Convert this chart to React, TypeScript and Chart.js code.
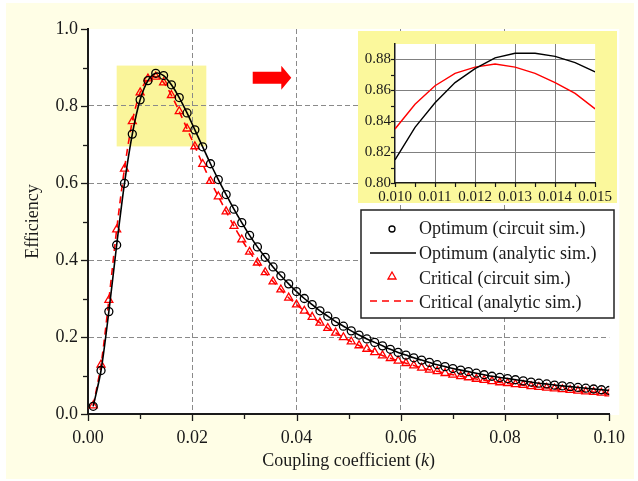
import React, { useEffect, useRef } from 'react';
import { Chart, registerables } from 'chart.js';
Chart.register(...registerables);

// ---------- data ----------
const kValues = [
  0.001, 0.0025, 0.004, 0.0055, 0.007, 0.0085, 0.01, 0.0115, 0.013, 0.0145,
  0.016, 0.0175, 0.019, 0.0205, 0.022, 0.0235, 0.025, 0.0265, 0.028, 0.0295,
  0.031, 0.0325, 0.034, 0.0355, 0.037, 0.0385, 0.04, 0.0415, 0.043, 0.0445,
  0.046, 0.0475, 0.049, 0.0505, 0.052, 0.0535, 0.055, 0.0565, 0.058, 0.0595,
  0.061, 0.0625, 0.064, 0.0655, 0.067, 0.0685, 0.07, 0.0715, 0.073, 0.0745,
  0.076, 0.0775, 0.079, 0.0805, 0.082, 0.0835, 0.085, 0.0865, 0.088, 0.0895,
  0.091, 0.0925, 0.094, 0.0955, 0.097, 0.0985, 0.1,
];
const optimumCircuit = [
  0.020, 0.113, 0.266, 0.439, 0.599, 0.727, 0.816, 0.866, 0.885, 0.879,
  0.855, 0.822, 0.782, 0.738, 0.694, 0.650, 0.609, 0.570, 0.532, 0.497,
  0.464, 0.434, 0.407, 0.382, 0.359, 0.338, 0.318, 0.300, 0.284, 0.268,
  0.254, 0.240, 0.228, 0.216, 0.205, 0.195, 0.186, 0.177, 0.168, 0.160,
  0.153, 0.146, 0.140, 0.134, 0.128, 0.123, 0.118, 0.114, 0.110, 0.106,
  0.102, 0.098, 0.095, 0.092, 0.089, 0.086, 0.083, 0.080, 0.078, 0.075,
  0.073, 0.071, 0.069, 0.067, 0.065, 0.063, 0.061,
];
const optimumAnalytic = [
  0.020, 0.113, 0.266, 0.439, 0.599, 0.727, 0.816, 0.866, 0.885, 0.879,
  0.855, 0.822, 0.782, 0.738, 0.694, 0.650, 0.609, 0.570, 0.532, 0.497,
  0.464, 0.434, 0.407, 0.382, 0.359, 0.338, 0.318, 0.300, 0.284, 0.268,
  0.254, 0.240, 0.228, 0.216, 0.205, 0.195, 0.186, 0.177, 0.168, 0.160,
  0.153, 0.146, 0.140, 0.134, 0.128, 0.123, 0.118, 0.114, 0.110, 0.106,
  0.102, 0.098, 0.095, 0.092, 0.089, 0.086, 0.083, 0.080, 0.078, 0.075,
  0.073, 0.071, 0.069, 0.067, 0.065, 0.063, 0.061,
];
const criticalCircuit = [
  0.022, 0.128, 0.296, 0.479, 0.637, 0.760, 0.835, 0.871, 0.876, 0.861,
  0.828, 0.786, 0.741, 0.695, 0.649, 0.605, 0.565, 0.526, 0.488, 0.453,
  0.421, 0.393, 0.368, 0.344, 0.323, 0.302, 0.284, 0.268, 0.252, 0.237,
  0.223, 0.211, 0.199, 0.188, 0.178, 0.169, 0.160, 0.152, 0.145, 0.138,
  0.132, 0.126, 0.120, 0.115, 0.111, 0.106, 0.102, 0.098, 0.095, 0.091,
  0.088, 0.085, 0.082, 0.080, 0.077, 0.075, 0.072, 0.070, 0.068, 0.066,
  0.064, 0.062, 0.060, 0.058, 0.057, 0.055, 0.053,
];
const criticalAnalytic = [
  0.022, 0.128, 0.296, 0.479, 0.637, 0.760, 0.835, 0.871, 0.876, 0.861,
  0.828, 0.786, 0.741, 0.695, 0.649, 0.605, 0.565, 0.526, 0.488, 0.453,
  0.421, 0.393, 0.368, 0.344, 0.323, 0.302, 0.284, 0.268, 0.252, 0.237,
  0.223, 0.211, 0.199, 0.188, 0.178, 0.169, 0.160, 0.152, 0.145, 0.138,
  0.132, 0.126, 0.120, 0.115, 0.111, 0.106, 0.102, 0.098, 0.095, 0.091,
  0.088, 0.085, 0.082, 0.080, 0.077, 0.075, 0.072, 0.070, 0.068, 0.066,
  0.064, 0.062, 0.060, 0.058, 0.057, 0.055, 0.053,
];
const seriesLabels = [
  'Optimum (circuit sim.)',
  'Optimum (analytic sim.)',
  'Critical (circuit sim.)',
  'Critical (analytic sim.)',
];
const xTickLabels = ['0.00', '0.02', '0.04', '0.06', '0.08', '0.10'];
const yTickLabels = ['0.0', '0.2', '0.4', '0.6', '0.8', '1.0'];
const xTitleParts = ['Coupling coefficient (', 'k', ')'];
const yTitle = 'Efficiency';

const insetK = [0.01, 0.0105, 0.011, 0.0115, 0.012, 0.0125, 0.013, 0.0135, 0.014, 0.0145, 0.015];
const insetOptimum = [0.815, 0.836, 0.852, 0.865, 0.874, 0.881, 0.884, 0.884, 0.882, 0.878, 0.872];
const insetCritical = [0.835, 0.851, 0.863, 0.871, 0.875, 0.877, 0.875, 0.871, 0.865, 0.858, 0.848];
const insetXTickLabels = ['0.010', '0.011', '0.012', '0.013', '0.014', '0.015'];
const insetYTickLabels = ['0.80', '0.82', '0.84', '0.86', '0.88'];

const zoomBoxK = [0.0055, 0.0227];
const zoomBoxEff = [0.695, 0.905];
const arrowK = [0.0316, 0.039];
const arrowEff = 0.8735;

// ---------- styles ----------
const FAM = "'Liberation Serif', 'Times New Roman', serif";
const TXT = '#1a1a1a';
const GRID = '#8a8a8a';
const RED = '#ff0000';

function toPts(xs: number[], ys: number[]) {
  return xs.map((x, i) => ({ x, y: ys[i] }));
}

const mainPlugin = {
  id: 'mainDecor',
  beforeDraw(chart: any) {
    const { ctx, chartArea: a, scales } = chart;
    const x = scales.x, y = scales.y;
    ctx.save();
    ctx.fillStyle = '#fffee6';
    ctx.fillRect(6, 3, 628, 476);
    ctx.fillStyle = '#ffffff';
    ctx.fillRect(a.left, a.top, a.right - a.left + 10, a.bottom - a.top + 1);
    const bx1 = x.getPixelForValue(zoomBoxK[0]);
    const bx2 = x.getPixelForValue(zoomBoxK[1]);
    const by1 = y.getPixelForValue(zoomBoxEff[1]);
    const by2 = y.getPixelForValue(zoomBoxEff[0]);
    ctx.fillStyle = '#faf59b';
    ctx.fillRect(bx1, by1, bx2 - bx1, by2 - by1);
    ctx.restore();
  },
  afterDraw(chart: any) {
    const { ctx, chartArea: a, scales } = chart;
    const x = scales.x, y = scales.y;
    ctx.save();
    // minor/major ticks
    ctx.strokeStyle = TXT;
    ctx.lineWidth = 1.3;
    for (let i = 0; i <= 10; i++) {
      const px = Math.round(x.getPixelForValue(i / 100)) + 0.5;
      const len = i % 2 === 0 ? 7 : 5;
      ctx.beginPath();
      ctx.moveTo(px, a.bottom);
      ctx.lineTo(px, a.bottom + len);
      ctx.stroke();
      const py = Math.round(y.getPixelForValue(i / 10)) + 0.5;
      ctx.beginPath();
      ctx.moveTo(a.left, py);
      ctx.lineTo(a.left - len, py);
      ctx.stroke();
    }
    // arrow
    const ax1 = x.getPixelForValue(arrowK[0]);
    const ax2 = x.getPixelForValue(arrowK[1]);
    const ay = y.getPixelForValue(arrowEff);
    ctx.fillStyle = RED;
    ctx.beginPath();
    ctx.moveTo(ax1, ay - 6);
    ctx.lineTo(ax2 - 10, ay - 6);
    ctx.lineTo(ax2 - 10, ay - 12);
    ctx.lineTo(ax2, ay);
    ctx.lineTo(ax2 - 10, ay + 12);
    ctx.lineTo(ax2 - 10, ay + 6);
    ctx.lineTo(ax1, ay + 6);
    ctx.closePath();
    ctx.fill();
    // x title
    ctx.fillStyle = TXT;
    ctx.textBaseline = 'alphabetic';
    ctx.textAlign = 'left';
    const fonts = [`18px ${FAM}`, `italic 18px ${FAM}`, `18px ${FAM}`];
    let total = 0;
    const widths = xTitleParts.map((p, i) => {
      ctx.font = fonts[i];
      const w = ctx.measureText(p).width;
      total += w;
      return w;
    });
    let tx = (a.left + a.right) / 2 - total / 2;
    xTitleParts.forEach((p, i) => {
      ctx.font = fonts[i];
      ctx.fillText(p, tx, 466);
      tx += widths[i];
    });
    // y title
    ctx.save();
    ctx.translate(33, (a.top + a.bottom) / 2);
    ctx.rotate(-Math.PI / 2);
    ctx.font = `18px ${FAM}`;
    ctx.textAlign = 'center';
    ctx.textBaseline = 'middle';
    ctx.fillText(yTitle, 0, 0);
    ctx.restore();
    // legend
    const L = { x: 361, y: 210, w: 253, h: 108 };
    ctx.fillStyle = '#ffffff';
    ctx.fillRect(L.x, L.y, L.w, L.h);
    ctx.strokeStyle = '#222';
    ctx.lineWidth = 1.5;
    ctx.strokeRect(L.x, L.y, L.w, L.h);
    const rows = [234, 259, 284, 308];
    const mx = 392;
    ctx.strokeStyle = '#000';
    ctx.lineWidth = 1.3;
    ctx.beginPath();
    ctx.arc(mx, 229, 3, 0, Math.PI * 2);
    ctx.stroke();
    ctx.lineWidth = 1.5;
    ctx.beginPath();
    ctx.moveTo(370, 253);
    ctx.lineTo(416, 253);
    ctx.stroke();
    ctx.strokeStyle = RED;
    ctx.lineWidth = 1.3;
    ctx.beginPath();
    ctx.moveTo(mx, 272);
    ctx.lineTo(mx + 4, 279);
    ctx.lineTo(mx - 4, 279);
    ctx.closePath();
    ctx.stroke();
    ctx.lineWidth = 1.5;
    ctx.setLineDash([7, 5]);
    ctx.beginPath();
    ctx.moveTo(370, 301);
    ctx.lineTo(416, 301);
    ctx.stroke();
    ctx.setLineDash([]);
    ctx.fillStyle = TXT;
    ctx.font = `18px ${FAM}`;
    ctx.textAlign = 'left';
    ctx.textBaseline = 'alphabetic';
    seriesLabels.forEach((s, i) => ctx.fillText(s, 419, rows[i]));
    ctx.restore();
  },
};

const insetPlugin = {
  id: 'insetDecor',
  beforeDraw(chart: any) {
    const { ctx, chartArea: a } = chart;
    ctx.save();
    ctx.fillStyle = '#fbf89c';
    ctx.fillRect(0, 0, chart.width, chart.height);
    ctx.fillStyle = '#ffffff';
    ctx.fillRect(a.left, a.top, a.right - a.left, a.bottom - a.top);
    ctx.restore();
  },
  afterDraw(chart: any) {
    const { ctx, chartArea: a, scales } = chart;
    const x = scales.x, y = scales.y;
    ctx.save();
    ctx.strokeStyle = TXT;
    ctx.lineWidth = 1.2;
    for (let i = 0; i <= 10; i++) {
      const px = Math.round(x.getPixelForValue(0.01 + i * 0.0005)) + 0.5;
      ctx.beginPath();
      ctx.moveTo(px, a.bottom);
      ctx.lineTo(px, a.bottom + 4);
      ctx.stroke();
    }
    for (let i = 0; i <= 8; i++) {
      const py = Math.round(y.getPixelForValue(0.8 + i * 0.01)) + 0.5;
      ctx.beginPath();
      ctx.moveTo(a.left, py);
      ctx.lineTo(a.left - 4, py);
      ctx.stroke();
    }
    ctx.restore();
  },
};

export default function App() {
  const mainRef = useRef<HTMLCanvasElement>(null);
  const insetRef = useRef<HTMLCanvasElement>(null);

  useEffect(() => {
    const main = new Chart(mainRef.current as HTMLCanvasElement, {
      type: 'scatter',
      data: {
        datasets: [
          {
            label: seriesLabels[0],
            data: toPts(kValues, optimumCircuit),
            showLine: false,
            pointStyle: 'circle',
            pointRadius: 4,
            pointBorderWidth: 1.3,
            pointBorderColor: '#000',
            pointBackgroundColor: 'rgba(0,0,0,0)',
          },
          {
            label: seriesLabels[1],
            data: toPts(kValues, optimumAnalytic),
            showLine: true,
            borderColor: '#000',
            borderWidth: 1.6,
            pointRadius: 0,
            tension: 0.3,
          },
          {
            label: seriesLabels[2],
            data: toPts(kValues, criticalCircuit),
            showLine: false,
            pointStyle: 'triangle',
            pointRadius: 4.6,
            pointBorderWidth: 1.3,
            pointBorderColor: RED,
            pointBackgroundColor: 'rgba(0,0,0,0)',
          },
          {
            label: seriesLabels[3],
            data: toPts(kValues, criticalAnalytic),
            showLine: true,
            borderColor: RED,
            borderWidth: 1.6,
            borderDash: [7, 5],
            pointRadius: 0,
            tension: 0.3,
          },
        ],
      },
      options: {
        animation: false,
        responsive: false,
        events: [],
        layout: { padding: { top: 29, right: 25, left: 0, bottom: 0 } },
        plugins: { legend: { display: false }, tooltip: { enabled: false } },
        scales: {
          x: {
            type: 'linear',
            min: 0,
            max: 0.1,
            ticks: {
              stepSize: 0.02,
              padding: 13,
              color: TXT,
              font: { family: FAM, size: 18 },
              maxRotation: 0,
              autoSkip: false,
              callback: (_v: any, i: number) => xTickLabels[i],
            },
            grid: {
              drawTicks: false,
              lineWidth: 1,
              color: (c: any) =>
                c.tick && c.tick.value > 0.001 && c.tick.value < 0.099 ? GRID : 'rgba(0,0,0,0)',
            },
            border: { display: true, color: TXT, width: 2, dash: [5, 3] },
            afterFit: (s: any) => {
              s.height = 67;
            },
          },
          y: {
            type: 'linear',
            min: 0,
            max: 1,
            ticks: {
              stepSize: 0.2,
              padding: 10,
              color: TXT,
              font: { family: FAM, size: 18 },
              callback: (_v: any, i: number) => yTickLabels[i],
            },
            grid: {
              drawTicks: false,
              lineWidth: 1,
              color: (c: any) =>
                c.tick && c.tick.value > 0.01 && c.tick.value < 0.99 ? GRID : 'rgba(0,0,0,0)',
            },
            border: { display: true, color: TXT, width: 2, dash: [5, 3] },
            afterFit: (s: any) => {
              s.width = 88;
            },
          },
        },
      },
      plugins: [mainPlugin],
    } as any);

    const inset = new Chart(insetRef.current as HTMLCanvasElement, {
      type: 'scatter',
      data: {
        datasets: [
          {
            label: seriesLabels[1],
            data: toPts(insetK, insetOptimum),
            showLine: true,
            borderColor: '#000',
            borderWidth: 1.4,
            pointRadius: 0,
          },
          {
            label: seriesLabels[3],
            data: toPts(insetK, insetCritical),
            showLine: true,
            borderColor: RED,
            borderWidth: 1.4,
            pointRadius: 0,
          },
        ],
      },
      options: {
        animation: false,
        responsive: false,
        events: [],
        layout: { padding: { top: 7, right: 19, left: 0, bottom: 0 } },
        plugins: { legend: { display: false }, tooltip: { enabled: false } },
        scales: {
          x: {
            type: 'linear',
            min: 0.01,
            max: 0.015,
            ticks: {
              stepSize: 0.001,
              padding: 5,
              color: TXT,
              font: { family: FAM, size: 15 },
              maxRotation: 0,
              autoSkip: false,
              callback: (_v: any, i: number) => insetXTickLabels[i],
            },
            grid: {
              drawTicks: false,
              lineWidth: 1,
              color: (c: any) =>
                c.tick && c.tick.value > 0.0101 && c.tick.value < 0.0149 ? '#808080' : 'rgba(0,0,0,0)',
            },
            border: { display: true, color: TXT, width: 1.5 },
            afterFit: (s: any) => {
              s.height = 20;
            },
          },
          y: {
            type: 'linear',
            min: 0.8,
            max: 0.89,
            ticks: {
              stepSize: 0.02,
              includeBounds: false,
              padding: 4,
              color: TXT,
              font: { family: FAM, size: 15 },
              callback: (_v: any, i: number) => insetYTickLabels[i],
            },
            grid: {
              drawTicks: false,
              lineWidth: 1,
              color: (c: any) =>
                c.tick && c.tick.value > 0.801 && c.tick.value < 0.8895 ? '#808080' : 'rgba(0,0,0,0)',
            },
            border: { display: true, color: TXT, width: 1.5 },
            afterFit: (s: any) => {
              s.width = 37;
            },
          },
        },
      },
      plugins: [insetPlugin],
    } as any);

    return () => {
      main.destroy();
      inset.destroy();
    };
  }, []);

  return (
    <div style={{ position: 'fixed', left: 0, top: 0, width: 638, height: 481, background: '#ffffff' }}>
      <canvas ref={mainRef} width={638} height={481} style={{ position: 'absolute', left: 0, top: 0 }} />
      <canvas ref={insetRef} width={259} height={172} style={{ position: 'absolute', left: 358, top: 31 }} />
    </div>
  );
}
